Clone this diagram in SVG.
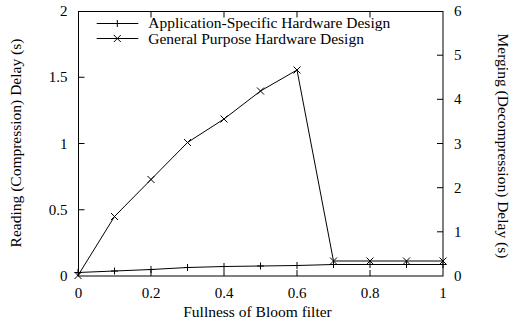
<svg xmlns="http://www.w3.org/2000/svg" width="511" height="326" viewBox="0 0 511 326" font-family="'Liberation Serif','Times New Roman',serif">
<style>
text{font-family:"Liberation Serif","Times New Roman",serif;fill:#000}
.t{font-size:15px}
.lg{font-size:15.5px}
.ax{font-size:15.5px}
.frame,.tick,.ser{fill:none;stroke:#000;stroke-width:1}
</style>
<defs>
<path id="plus" d="M-3.5,0H3.5M0,-3.5V3.5" stroke="#000" stroke-width="1" fill="none"/>
<path id="cross" d="M-3.5,-3.5L3.5,3.5M-3.5,3.5L3.5,-3.5" stroke="#000" stroke-width="1" fill="none"/>
</defs>
<rect width="511" height="326" fill="#fff"/>
<g id="axes">
<rect class="frame" x="78.5" y="11.5" width="364.5" height="264.5"/>
<path class="tick" d="M78.5,209.75h6M78.5,143.5h6M78.5,77.25h6
M151,276v-6M224,276v-6M297,276v-6M370,276v-6
M151,11.5v6M224,11.5v6M297,11.5v6M370,11.5v6
M443,231.8h-6M443,187.7h-6M443,143.5h-6M443,99.3h-6M443,55.2h-6"/>
</g>
<g id="left-ticks" class="t" text-anchor="end">
<text x="67.5" y="281">0</text>
<text x="67.5" y="214.8">0.5</text>
<text x="67.5" y="148.5">1</text>
<text x="67.5" y="82.3">1.5</text>
<text x="67.5" y="16">2</text>
</g>
<g id="right-ticks" class="t">
<text x="454" y="281">0</text>
<text x="454" y="236.8">1</text>
<text x="454" y="192.7">2</text>
<text x="454" y="148.5">3</text>
<text x="454" y="104.3">4</text>
<text x="454" y="60.2">5</text>
<text x="454" y="16">6</text>
</g>
<g id="bottom-ticks" class="t" text-anchor="middle">
<text x="78.5" y="297.5">0</text>
<text x="151" y="297.5">0.2</text>
<text x="224" y="297.5">0.4</text>
<text x="297" y="297.5">0.6</text>
<text x="370" y="297.5">0.8</text>
<text x="443" y="297.5">1</text>
</g>
<g id="axis-labels" class="ax" text-anchor="middle">
<text x="257.5" y="317">Fullness of Bloom filter</text>
<text transform="translate(20.5,143) rotate(-90)">Reading (Compression) Delay (s)</text>
<text transform="translate(498,146) rotate(90)">Merging (Decompression) Delay (s)</text>
</g>
<g id="connectors">
<polyline class="ser" points="78,272.5 114.5,271 151,269.5 187.5,267.5 224,266.5 260.5,266 297,265.5 333.5,264.5 370,264.5 406.5,264.5 443,264.5"/>
<polyline class="ser" points="78,275.5 114.5,216.5 151,179.5 187.5,142.5 224,119 260.5,91 297,70 333.5,261 370,261 406.5,261 443,261"/>
</g>
<g id="series-app">
<use href="#plus" x="78" y="272.5"/><use href="#plus" x="114.5" y="271"/><use href="#plus" x="151" y="269.5"/><use href="#plus" x="187.5" y="267.5"/><use href="#plus" x="224" y="266.5"/><use href="#plus" x="260.5" y="266"/><use href="#plus" x="297" y="265.5"/><use href="#plus" x="333.5" y="264.5"/><use href="#plus" x="370" y="264.5"/><use href="#plus" x="406.5" y="264.5"/><use href="#plus" x="443" y="264.5"/>
</g>
<g id="series-gp">
<use href="#cross" x="78" y="275.5"/><use href="#cross" x="114.5" y="216.5"/><use href="#cross" x="151" y="179.5"/><use href="#cross" x="187.5" y="142.5"/><use href="#cross" x="224" y="119"/><use href="#cross" x="260.5" y="91"/><use href="#cross" x="297" y="70"/><use href="#cross" x="333.5" y="261"/><use href="#cross" x="370" y="261"/><use href="#cross" x="406.5" y="261"/><use href="#cross" x="443" y="261"/>
</g>
<g id="legend">
<path class="ser" d="M96.7,23.5H138.3M96.7,38.5H138.3"/>
<use href="#plus" x="117.3" y="23.5"/>
<use href="#cross" x="117.3" y="38.5"/>
<text class="lg" x="148.3" y="28.3">Application-Specific Hardware Design</text>
<text class="lg" x="148.3" y="43.5">General Purpose Hardware Design</text>
</g>
</svg>
